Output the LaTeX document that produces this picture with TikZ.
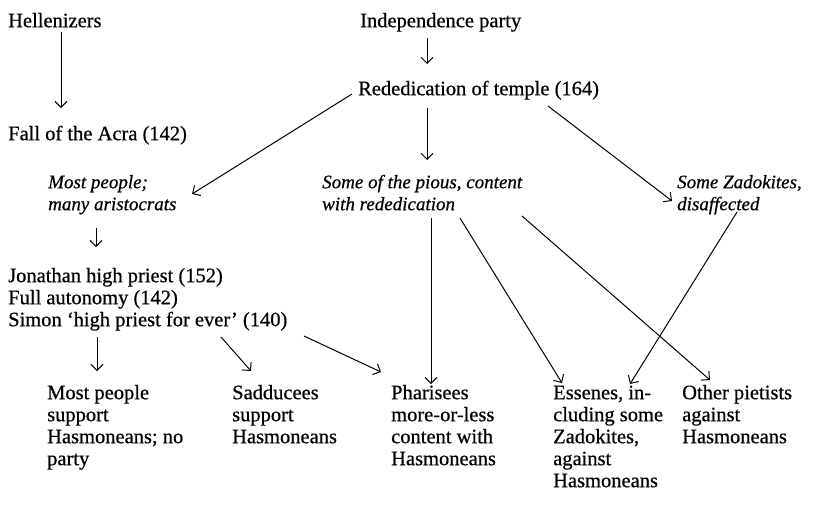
\documentclass[tikz,border=0pt]{standalone}
\usepackage{fontspec}
\setmainfont{Liberation Serif}
\newfontfamily\romfont{Liberation Serif}[FakeBold=0.6]
\newfontfamily\itfont{Liberation Serif Italic}[FakeBold=0.6]
\usetikzlibrary{arrows.meta}
\tikzset{
  txt/.style={anchor=north west, inner sep=0pt, align=left, font=\romfont\fontsize{20.5}{22}\selectfont},
  itxt/.style={txt, font=\itfont\fontsize{19}{22}\selectfont},
  arr/.style={line width=1pt, -{Straight Barb[length=6pt,width=12pt,line width=1pt]}}
}
\begin{document}
\begin{tikzpicture}[x=1pt,y=-1pt]
\useasboundingbox (0,0) rectangle (835,528);
\node[txt] (hel) at (8,11.6) {\strut Hellenizers};
\node[txt] (ind) at (360,11.6) {\strut Independence party};
\node[txt] (red) at (358,79.6) {\strut Rededication of temple (164)};
\node[txt] (fall) at (8,124.6) {\strut Fall of the Acra (142)};
\node[itxt] (most) at (48,172.6) {\strut Most people;\\\strut many aristocrats};
\node[itxt] (pious) at (322,172.6) {\strut Some of the pious, content\\\strut with rededication};
\node[itxt] (zad) at (677,172.6) {\strut Some Zadokites,\\\strut disaffected};
\node[txt] (jon) at (8,266.6) {\strut Jonathan high priest (152)\\\strut Full autonomy (142)\\\strut Simon ‘high priest for ever’ (140)};
\node[txt] (mp) at (47,383.6) {\strut Most people\\\strut support\\\strut Hasmoneans; no\\\strut party};
\node[txt] (sad) at (232,383.6) {\strut Sadducees\\\strut support\\\strut Hasmoneans};
\node[txt] (phar) at (391,383.6) {\strut Pharisees\\\strut more-or-less\\\strut content with\\\strut Hasmoneans};
\node[txt] (ess) at (553,383.6) {\strut Essenes, in-\\\strut cluding some\\\strut Zadokites,\\\strut against\\\strut Hasmoneans};
\node[txt] (oth) at (682,383.6) {\strut Other pietists\\\strut against\\\strut Hasmoneans};
% connectors
\draw[arr] ([shift={(53,20.4)}]hel.north west) -- ([shift={(53,-16.6)}]fall.north west);
\draw[arr] ([shift={(67,26.4)}]ind.north west) -- ([shift={(69,-15.6)}]red.north west);
\draw[arr] ([shift={(-6,14.4)}]red.north west) -- ([shift={(144,21.4)}]most.north west);
\draw[arr] ([shift={(69,28.4)}]red.north west) -- ([shift={(105,-12.6)}]pious.north west);
\draw[arr] ([shift={(190,26.4)}]red.north west) -- ([shift={(-5,28.4)}]zad.north west);
\draw[arr] ([shift={(48,55.4)}]most.north west) -- ([shift={(88,-19.6)}]jon.north west);
\draw[arr] ([shift={(89,70.4)}]jon.north west) -- ([shift={(50,-12.6)}]mp.north west);
\draw[arr] ([shift={(213,70.4)}]jon.north west) -- ([shift={(19,-12.6)}]sad.north west);
\draw[arr] ([shift={(296,69.4)}]jon.north west) -- ([shift={(-10,-11.6)}]phar.north west);
\draw[arr] ([shift={(109,45.4)}]pious.north west) -- ([shift={(40,0.4)}]phar.north west);
\draw[arr] ([shift={(138,45.4)}]pious.north west) -- ([shift={(9,-0.6)}]ess.north west);
\draw[arr] ([shift={(200,43.4)}]pious.north west) -- ([shift={(28,-3.6)}]oth.north west);
\draw[arr] ([shift={(60,39.4)}]zad.north west) -- ([shift={(77,0.4)}]ess.north west);
\end{tikzpicture}
\end{document}
